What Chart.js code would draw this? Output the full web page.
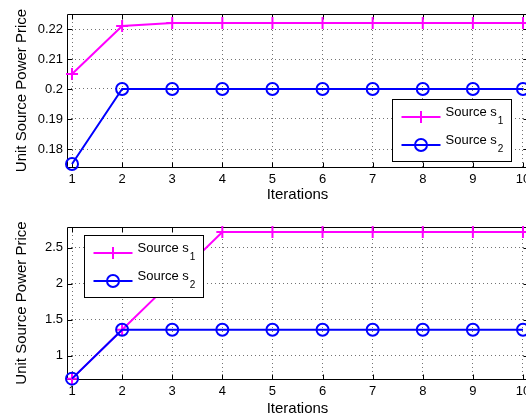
<!DOCTYPE html>
<html>
<head>
<meta charset="utf-8">
<script src="https://cdn.jsdelivr.net/npm/chart.js@4/dist/chart.umd.min.js"></script>
<style>
  html, body { margin: 0; padding: 0; background: #fff; }
  #wrap { width: 526px; height: 420px; overflow: hidden; position: relative; }
  .pane { position: absolute; left: 0; width: 540px; height: 210px; }
  canvas { display: block; }
</style>
</head>
<body>
<div id="wrap">
  <div class="pane" style="top:0"><canvas id="priceTop" width="540" height="210"></canvas></div>
  <div class="pane" style="top:210px"><canvas id="priceBottom" width="540" height="210"></canvas></div>
</div>
<script>
// Iteration index on the x axis
const iterations = [1, 2, 3, 4, 5, 6, 7, 8, 9, 10];

// Upper panel: unit source power price per iteration
const topSourceS1 = [0.205, 0.221, 0.222, 0.222, 0.222, 0.222, 0.222, 0.222, 0.222, 0.222];
const topSourceS2 = [0.175, 0.200, 0.200, 0.200, 0.200, 0.200, 0.200, 0.200, 0.200, 0.200];
const topYTicks = [0.18, 0.19, 0.2, 0.21, 0.22];

// Lower panel: unit source power price per iteration
const bottomSourceS1 = [0.68, 1.36, 2.04, 2.72, 2.72, 2.72, 2.72, 2.72, 2.72, 2.72];
const bottomSourceS2 = [0.68, 1.36, 1.36, 1.36, 1.36, 1.36, 1.36, 1.36, 1.36, 1.36];
const bottomYTicks = [1, 1.5, 2, 2.5];

// Legend entries: base name and subscript
const seriesNames = ['Source s', 'Source s'];
const seriesSubs = ['1', '2'];

const MAGENTA = '#ff00ff';
const BLUE = '#0000ff';
const FONT = '"Liberation Sans", Arial, Helvetica, sans-serif';

// Box around the plot area with inward tick marks
const framePlugin = {
  id: 'frame',
  beforeDatasetsDraw(chart) {
    const { ctx, chartArea: a, scales: { x, y } } = chart;
    const L = Math.round(a.left) + 0.5, R = Math.round(a.right) + 0.5;
    const T = Math.round(a.top) + 0.5, B = Math.round(a.bottom) + 0.5;
    ctx.save();
    ctx.strokeStyle = '#000';
    ctx.lineWidth = 1;
    ctx.beginPath();
    ctx.rect(L, T, R - L, B - T);
    x.ticks.forEach(t => {
      const px = Math.round(x.getPixelForValue(t.value)) + 0.5;
      ctx.moveTo(px, B); ctx.lineTo(px, B - 5);
      ctx.moveTo(px, T); ctx.lineTo(px, T + 5);
    });
    y.ticks.forEach(t => {
      const py = Math.round(y.getPixelForValue(t.value)) + 0.5;
      ctx.moveTo(L, py); ctx.lineTo(L + 5, py);
      ctx.moveTo(R, py); ctx.lineTo(R - 5, py);
    });
    ctx.stroke();
    ctx.restore();
  }
};

// Boxed legend with line samples, markers and subscripted names
const sourceLegendPlugin = {
  id: 'sourceLegend',
  afterDraw(chart, args, opts) {
    const { ctx, chartArea: a } = chart;
    const bx = Math.round(a.left + opts.dx) + 0.5;
    const by = Math.round(a.top + opts.dy) + 0.5;
    const bw = 119, bh = 62;
    ctx.save();
    ctx.fillStyle = '#fff';
    ctx.fillRect(bx, by, bw, bh);
    ctx.strokeStyle = '#000';
    ctx.lineWidth = 1;
    ctx.strokeRect(bx, by, bw, bh);
    const order = [0, 1];
    order.forEach((i, row) => {
      const ds = chart.data.datasets.find(d => d.seriesIndex === i);
      const ly = Math.round(by + 17 + row * 28.5);
      const x0 = bx + 9, x1 = bx + 48, cx = (x0 + x1) / 2;
      ctx.strokeStyle = ds.borderColor;
      ctx.lineWidth = 2;
      ctx.beginPath();
      ctx.moveTo(x0, ly); ctx.lineTo(x1, ly);
      ctx.stroke();
      ctx.beginPath();
      if (ds.pointStyle === 'cross') {
        ctx.moveTo(cx - 6, ly); ctx.lineTo(cx + 6, ly);
        ctx.moveTo(cx, ly - 6); ctx.lineTo(cx, ly + 6);
      } else {
        ctx.arc(cx, ly, 6, 0, Math.PI * 2);
      }
      ctx.stroke();
      ctx.fillStyle = '#000';
      ctx.textBaseline = 'alphabetic';
      ctx.textAlign = 'left';
      ctx.font = '13px ' + FONT;
      const tx = bx + 53;
      ctx.fillText(seriesNames[i], tx, ly - 1);
      const w = ctx.measureText(seriesNames[i]).width;
      ctx.font = '10px ' + FONT;
      ctx.fillText(seriesSubs[i], tx + w + 1, ly + 7);
    });
    ctx.restore();
  }
};

function makeChart(id, s1, s2, yMin, yMax, yTicks, padTop, xHeight, titlePadBottom, legendOffset) {
  return new Chart(document.getElementById(id), {
    type: 'line',
    data: {
      datasets: [
        {
          seriesIndex: 0,
          label: seriesNames[0] + seriesSubs[0],
          data: iterations.map((it, k) => ({ x: it, y: s1[k] })),
          borderColor: MAGENTA,
          backgroundColor: MAGENTA,
          borderWidth: 2,
          pointStyle: 'cross',
          pointRadius: 6,
          pointBorderWidth: 2,
          pointHoverRadius: 6,
          tension: 0,
          clip: false,
          order: 1
        },
        {
          seriesIndex: 1,
          label: seriesNames[1] + seriesSubs[1],
          data: iterations.map((it, k) => ({ x: it, y: s2[k] })),
          borderColor: BLUE,
          backgroundColor: 'rgba(0,0,0,0)',
          borderWidth: 2,
          pointStyle: 'circle',
          pointRadius: 6,
          pointBorderWidth: 2,
          pointHoverRadius: 6,
          tension: 0,
          clip: false,
          order: 0
        }
      ]
    },
    options: {
      responsive: false,
      animation: false,
      events: [],
      layout: { padding: { top: padTop, right: 12, left: 0, bottom: 0 } },
      plugins: {
        legend: { display: false },
        tooltip: { enabled: false },
        sourceLegend: legendOffset
      },
      scales: {
        x: {
          type: 'linear',
          min: 0.9,
          max: 10.1,
          afterBuildTicks: s => { s.ticks = iterations.map(v => ({ value: v })); },
          afterFit: s => { s.height = xHeight; },
          ticks: {
            autoSkip: false, maxRotation: 0, padding: 5, color: '#000',
            font: { family: FONT, size: 13 },
            callback: v => String(v)
          },
          grid: { drawTicks: false, color: 'rgba(0,0,0,0.55)', lineWidth: 1 },
          border: { display: false, dash: [1, 3] },
          title: {
            display: true, text: 'Iterations', color: '#000',
            font: { family: FONT, size: 15 },
            padding: { top: 0, bottom: titlePadBottom }
          }
        },
        y: {
          type: 'linear',
          min: yMin,
          max: yMax,
          afterBuildTicks: s => { s.ticks = yTicks.map(v => ({ value: v })); },
          afterFit: s => { s.width = 67; },
          ticks: {
            padding: 4, color: '#000',
            font: { family: FONT, size: 13 },
            callback: v => String(v)
          },
          grid: { drawTicks: false, color: 'rgba(0,0,0,0.55)', lineWidth: 1 },
          border: { display: false, dash: [1, 3] },
          title: {
            display: true, text: 'Unit Source Power Price', color: '#000',
            font: { family: FONT, size: 15 },
            padding: { top: 13, bottom: 0 }
          }
        }
      }
    },
    plugins: [framePlugin, sourceLegendPlugin]
  });
}

makeChart('priceTop', topSourceS1, topSourceS2, 0.174, 0.225, topYTicks, 14, 43, 6, { dx: 325, dy: 85 });
makeChart('priceBottom', bottomSourceS1, bottomSourceS2, 0.675, 2.79, bottomYTicks, 17, 41, 2, { dx: 17, dy: 8 });
</script>
</body>
</html>
